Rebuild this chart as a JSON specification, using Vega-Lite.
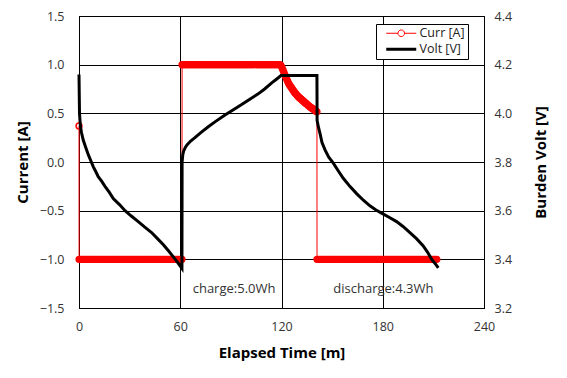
{
  "$schema": "https://vega.github.io/schema/vega-lite/v6.json",
  "autosize": {"type": "none"},
  "padding": {"left": 79, "top": 16, "right": 83, "bottom": 70},
  "width": 405,
  "height": 292,
  "background": "white",
  "datasets": {
    "curr": [
      {"t":0,"I":0.37},{"t":0.05,"I":-1},{"t":1,"I":-1},{"t":2,"I":-1},{"t":3,"I":-1},{"t":4,"I":-1},{"t":5,"I":-1},{"t":6,"I":-1},{"t":7,"I":-1},{"t":8,"I":-1},{"t":9,"I":-1},{"t":10,"I":-1},
      {"t":11,"I":-1},{"t":12,"I":-1},{"t":13,"I":-1},{"t":14,"I":-1},{"t":15,"I":-1},{"t":16,"I":-1},{"t":17,"I":-1},{"t":18,"I":-1},{"t":19,"I":-1},{"t":20,"I":-1},
      {"t":21,"I":-1},{"t":22,"I":-1},{"t":23,"I":-1},{"t":24,"I":-1},{"t":25,"I":-1},{"t":26,"I":-1},{"t":27,"I":-1},{"t":28,"I":-1},{"t":29,"I":-1},{"t":30,"I":-1},
      {"t":31,"I":-1},{"t":32,"I":-1},{"t":33,"I":-1},{"t":34,"I":-1},{"t":35,"I":-1},{"t":36,"I":-1},{"t":37,"I":-1},{"t":38,"I":-1},{"t":39,"I":-1},{"t":40,"I":-1},
      {"t":41,"I":-1},{"t":42,"I":-1},{"t":43,"I":-1},{"t":44,"I":-1},{"t":45,"I":-1},{"t":46,"I":-1},{"t":47,"I":-1},{"t":48,"I":-1},{"t":49,"I":-1},{"t":50,"I":-1},
      {"t":51,"I":-1},{"t":52,"I":-1},{"t":53,"I":-1},{"t":54,"I":-1},{"t":55,"I":-1},{"t":56,"I":-1},{"t":57,"I":-1},{"t":58,"I":-1},{"t":59,"I":-1},{"t":60,"I":-1},{"t":61,"I":-1},
      {"t":61.1,"I":1},{"t":62,"I":1},{"t":63,"I":1},{"t":64,"I":1},{"t":65,"I":1},{"t":66,"I":1},{"t":67,"I":1},{"t":68,"I":1},{"t":69,"I":1},{"t":70,"I":1},
      {"t":71,"I":1},{"t":72,"I":1},{"t":73,"I":1},{"t":74,"I":1},{"t":75,"I":1},{"t":76,"I":1},{"t":77,"I":1},{"t":78,"I":1},{"t":79,"I":1},{"t":80,"I":1},
      {"t":81,"I":1},{"t":82,"I":1},{"t":83,"I":1},{"t":84,"I":1},{"t":85,"I":1},{"t":86,"I":1},{"t":87,"I":1},{"t":88,"I":1},{"t":89,"I":1},{"t":90,"I":1},
      {"t":91,"I":1},{"t":92,"I":1},{"t":93,"I":1},{"t":94,"I":1},{"t":95,"I":1},{"t":96,"I":1},{"t":97,"I":1},{"t":98,"I":1},{"t":99,"I":1},{"t":100,"I":1},
      {"t":101,"I":1},{"t":102,"I":1},{"t":103,"I":1},{"t":104,"I":1},{"t":105,"I":1},{"t":106,"I":1},{"t":107,"I":1},{"t":108,"I":1},{"t":109,"I":1},{"t":110,"I":1},
      {"t":111,"I":1},{"t":112,"I":1},{"t":113,"I":1},{"t":114,"I":1},{"t":115,"I":1},{"t":116,"I":1},{"t":117,"I":1},{"t":118,"I":1},{"t":119,"I":1},
      {"t":119.5,"I":0.995},{"t":120,"I":0.98},{"t":120.5,"I":0.96},{"t":121,"I":0.94},{"t":121.5,"I":0.918},{"t":122,"I":0.895},{"t":122.5,"I":0.875},{"t":123,"I":0.855},{"t":123.5,"I":0.835},{"t":124,"I":0.815},
      {"t":124.5,"I":0.8},{"t":125,"I":0.785},{"t":125.5,"I":0.772},{"t":126,"I":0.76},{"t":126.5,"I":0.747},{"t":127,"I":0.735},{"t":127.5,"I":0.722},{"t":128,"I":0.71},{"t":128.5,"I":0.7},{"t":129,"I":0.69},
      {"t":129.5,"I":0.68},{"t":130,"I":0.67},{"t":130.5,"I":0.662},{"t":131,"I":0.655},{"t":131.5,"I":0.647},{"t":132,"I":0.64},{"t":132.5,"I":0.632},{"t":133,"I":0.625},{"t":133.5,"I":0.617},{"t":134,"I":0.61},
      {"t":134.5,"I":0.602},{"t":135,"I":0.595},{"t":135.5,"I":0.587},{"t":136,"I":0.58},{"t":136.5,"I":0.572},{"t":137,"I":0.565},{"t":137.5,"I":0.559},{"t":138,"I":0.553},{"t":138.5,"I":0.547},{"t":139,"I":0.542},
      {"t":139.5,"I":0.536},{"t":140,"I":0.53},{"t":140.5,"I":0.522},{"t":141,"I":0.515},
      {"t":141.05,"I":-1},{"t":142,"I":-1},{"t":143,"I":-1},{"t":144,"I":-1},{"t":145,"I":-1},{"t":146,"I":-1},{"t":147,"I":-1},{"t":148,"I":-1},{"t":149,"I":-1},{"t":150,"I":-1},
      {"t":151,"I":-1},{"t":152,"I":-1},{"t":153,"I":-1},{"t":154,"I":-1},{"t":155,"I":-1},{"t":156,"I":-1},{"t":157,"I":-1},{"t":158,"I":-1},{"t":159,"I":-1},{"t":160,"I":-1},
      {"t":161,"I":-1},{"t":162,"I":-1},{"t":163,"I":-1},{"t":164,"I":-1},{"t":165,"I":-1},{"t":166,"I":-1},{"t":167,"I":-1},{"t":168,"I":-1},{"t":169,"I":-1},{"t":170,"I":-1},
      {"t":171,"I":-1},{"t":172,"I":-1},{"t":173,"I":-1},{"t":174,"I":-1},{"t":175,"I":-1},{"t":176,"I":-1},{"t":177,"I":-1},{"t":178,"I":-1},{"t":179,"I":-1},{"t":180,"I":-1},
      {"t":181,"I":-1},{"t":182,"I":-1},{"t":183,"I":-1},{"t":184,"I":-1},{"t":185,"I":-1},{"t":186,"I":-1},{"t":187,"I":-1},{"t":188,"I":-1},{"t":189,"I":-1},{"t":190,"I":-1},
      {"t":191,"I":-1},{"t":192,"I":-1},{"t":193,"I":-1},{"t":194,"I":-1},{"t":195,"I":-1},{"t":196,"I":-1},{"t":197,"I":-1},{"t":198,"I":-1},{"t":199,"I":-1},{"t":200,"I":-1},
      {"t":201,"I":-1},{"t":202,"I":-1},{"t":203,"I":-1},{"t":204,"I":-1},{"t":205,"I":-1},{"t":206,"I":-1},{"t":207,"I":-1},{"t":208,"I":-1},{"t":209,"I":-1},{"t":210,"I":-1},
      {"t":211,"I":-1},{"t":212,"I":-1}
    ],
    "volt": [
      {"t":0,"V":4.16},{"t":0.3,"V":4.0},{"t":0.8,"V":3.95},{"t":1.5,"V":3.92},{"t":2.5,"V":3.89},{"t":4,"V":3.86},{"t":5.5,"V":3.83},{"t":7,"V":3.805},{"t":8.5,"V":3.78},{"t":10,"V":3.76},
      {"t":11.4,"V":3.74},{"t":13.5,"V":3.72},{"t":15.4,"V":3.70},{"t":18,"V":3.675},{"t":20.3,"V":3.65},{"t":24,"V":3.625},{"t":27.3,"V":3.60},{"t":31,"V":3.578},{"t":35.1,"V":3.555},
      {"t":39,"V":3.532},{"t":43,"V":3.51},{"t":46.5,"V":3.485},{"t":50,"V":3.46},{"t":53,"V":3.435},{"t":55.9,"V":3.41},{"t":58.5,"V":3.387},{"t":61,"V":3.363},
      {"t":61.1,"V":3.80},{"t":61.5,"V":3.83},{"t":62,"V":3.845},{"t":63,"V":3.86},{"t":64,"V":3.87},{"t":66,"V":3.885},{"t":68.7,"V":3.90},{"t":72,"V":3.92},{"t":76.6,"V":3.945},
      {"t":81,"V":3.967},{"t":86.5,"V":3.993},{"t":91,"V":4.013},{"t":96.4,"V":4.036},{"t":101,"V":4.057},{"t":106.2,"V":4.08},{"t":110,"V":4.10},{"t":114.2,"V":4.125},{"t":117,"V":4.14},{"t":119.7,"V":4.155},
      {"t":141,"V":4.155},{"t":141.1,"V":3.97},{"t":142,"V":3.94},{"t":142.8,"V":3.918},{"t":144,"V":3.88},{"t":145.8,"V":3.85},{"t":148,"V":3.82},{"t":150.7,"V":3.795},{"t":153.5,"V":3.765},
      {"t":156.6,"V":3.733},{"t":160.5,"V":3.70},{"t":164.5,"V":3.67},{"t":168.5,"V":3.643},{"t":172.4,"V":3.62},{"t":176,"V":3.603},{"t":179.3,"V":3.59},{"t":184,"V":3.572},{"t":188.2,"V":3.555},
      {"t":192,"V":3.535},{"t":196.1,"V":3.51},{"t":200,"V":3.485},{"t":204,"V":3.455},{"t":206.5,"V":3.43},{"t":209,"V":3.40},{"t":211,"V":3.383},{"t":212.9,"V":3.365}
    ],
    "notes": [
      {"t":91.9,"I":-1.3,"label":"charge:5.0Wh"},
      {"t":180.4,"I":-1.3,"label":"discharge:4.3Wh"}
    ]
  },
  "encoding": {
    "x": {
      "field": "t", "type": "quantitative",
      "scale": {"domain": [0, 240], "nice": false, "zero": false},
      "axis": {"title": "Elapsed Time [m]", "values": [0, 60, 120, 180, 240], "format": "d", "grid": true, "labelPadding": 12, "titlePadding": 13}
    }
  },
  "layer": [
    {
      "encoding": {
        "y": {
          "field": "I", "type": "quantitative",
          "scale": {"domain": [-1.5, 1.5], "nice": false, "zero": false},
          "axis": {"title": "Current [A]", "orient": "left", "values": [-1.5, -1, -0.5, 0, 0.5, 1, 1.5], "format": ".1f", "grid": true, "labelPadding": 15, "titlePadding": 9}
        }
      },
      "layer": [
        {
          "data": {"name": "curr"},
          "mark": {"type": "line", "strokeWidth": 1},
          "encoding": {
            "color": {"datum": "Curr [A]", "type": "nominal",
              "scale": {"domain": ["Curr [A]", "Volt [V]"], "range": ["#ff0000", "#000000"]},
              "legend": {
                "title": null, "orient": "none", "legendX": 297, "legendY": 8,
                "strokeColor": "black", "fillColor": "white", "padding": 3,
                "symbolSize": 900, "symbolOffset": 16, "labelOffset": 12, "rowPadding": 3,
                "labelFontSize": 12.5, "labelColor": "#222",
                "encode": {
                  "symbols": {
                    "update": {
                      "shape": {"signal": "datum.value === 'Curr [A]' ? 'M-1,0H-0.22M0.22,0H1M-0.22,0A0.22,0.22 0 1 1 0.22,0A0.22,0.22 0 1 1 -0.22,0' : 'M-1,0H1'"},
                      "stroke": {"signal": "datum.value === 'Curr [A]' ? '#ff0000' : '#000000'"},
                      "strokeWidth": {"signal": "datum.value === 'Curr [A]' ? 1 : 3"},
                      "fill": {"value": "transparent"},
                      "opacity": {"value": 1}
                    }
                  }
                }
              }
            }
          }
        },
        {
          "data": {"name": "curr"},
          "mark": {"type": "point", "filled": false, "size": 34, "strokeWidth": 1.5, "opacity": 1},
          "encoding": {
            "color": {"datum": "Curr [A]", "type": "nominal"},
            "fill": {"condition": {"test": "datum.t > 0", "value": "#ff0000"}, "value": "transparent"}
          }
        },
        {
          "data": {"name": "notes"},
          "mark": {"type": "text", "fontSize": 13, "color": "#333", "align": "center", "baseline": "middle"},
          "encoding": {"text": {"field": "label"}}
        }
      ]
    },
    {
      "data": {"name": "volt"},
      "mark": {"type": "line", "strokeWidth": 3},
      "encoding": {
        "y": {
          "field": "V", "type": "quantitative",
          "scale": {"domain": [3.2, 4.4], "nice": false, "zero": false},
          "axis": {"title": "Burden Volt [V]", "orient": "right", "values": [3.2, 3.4, 3.6, 3.8, 4.0, 4.2, 4.4], "format": ".1f", "grid": false, "labelPadding": 10, "titlePadding": 22, "titleAngle": 270, "titleBaseline": "top"}
        },
        "color": {"datum": "Volt [V]", "type": "nominal"}
      }
    }
  ],
  "resolve": {"scale": {"y": "independent"}},
  "config": {
    "font": "Open Sans",
    "view": {"stroke": "black", "strokeWidth": 1},
    "axis": {
      "gridColor": "black", "gridOpacity": 1, "gridWidth": 1,
      "domainColor": "black", "domainWidth": 1,
      "ticks": false, "labelFlush": false, "labelOverlap": false,
      "labelFontSize": 12.5, "labelColor": "#333", "labelFont": "Open Sans",
      "titleFontSize": 15, "titleFontWeight": "bold", "titleColor": "black", "titleFont": "Open Sans"
    },
    "legend": {"labelFont": "Open Sans"}
  }
}
